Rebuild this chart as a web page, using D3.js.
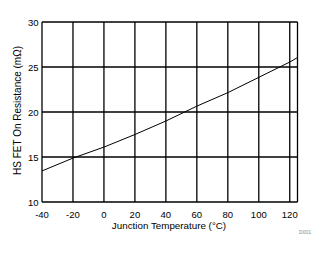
<!DOCTYPE html>
<html>
<head>
<meta charset="utf-8">
<script src="https://cdn.jsdelivr.net/npm/d3@7"></script>
<style>
  body { margin: 0; background: #fff; }
  text { font-family: "Liberation Sans", Arial, sans-serif; fill: #000; }
</style>
</head>
<body>
<svg id="chart" width="326" height="254"></svg>
<script>
// junction temperature (C) vs HS FET on resistance (mOhm)
var temps = [-40, -20, 0, 20, 40, 60, 80, 100, 120, 125];
var rdson = [13.45, 14.88, 16.1, 17.5, 19.0, 20.65, 22.15, 23.85, 25.55, 26.05];
var xTicks = [-40, -20, 0, 20, 40, 60, 80, 100, 120];
var yTicks = [10, 15, 20, 25, 30];

var svg = d3.select('#chart');
var plotLeft = 42, plotRight = 297.5, plotTop = 22, plotBottom = 202;

var x = d3.scaleLinear().domain([-40, 125]).range([plotLeft, plotRight]);
var y = d3.scaleLinear().domain([10, 30]).range([plotBottom, plotTop]);

// grid
var grid = svg.append('g').attr('stroke', '#000').attr('stroke-width', 1.3);
grid.selectAll('.vx').data(xTicks.concat([125])).enter().append('line')
    .attr('x1', (d) => x(d)).attr('x2', (d) => x(d))
    .attr('y1', plotTop).attr('y2', plotBottom);
grid.selectAll('.hy').data(yTicks).enter().append('line')
    .attr('x1', plotLeft).attr('x2', plotRight)
    .attr('y1', (d) => y(d)).attr('y2', (d) => y(d));

// tick labels
svg.append('g').selectAll('text').data(xTicks).enter().append('text')
    .attr('x', (d) => x(d)).attr('y', 217.5)
    .attr('text-anchor', 'middle').attr('font-size', 9.5)
    .text((d) => d);
svg.append('g').selectAll('text').data(yTicks).enter().append('text')
    .attr('x', 38.5).attr('y', (d) => y(d) + 3.5)
    .attr('text-anchor', 'end').attr('font-size', 9.5)
    .text((d) => d);

// curve
var line = d3.line().x((d, i) => x(temps[i])).y((d) => y(d));
svg.append('path').datum(rdson)
    .attr('d', line).attr('fill', 'none')
    .attr('stroke', '#000').attr('stroke-width', 1);

// axis titles
svg.append('text').attr('x', 169).attr('y', 229)
    .attr('text-anchor', 'middle').attr('font-size', 9.8)
    .text('Junction Temperature (°C)');
svg.append('text').attr('transform', 'translate(21,110.5) rotate(-90)')
    .attr('text-anchor', 'middle').attr('font-size', 10)
    .text('HS FET On Resistance (mΩ)');

svg.append('text').attr('x', 311).attr('y', 234)
    .attr('text-anchor', 'end').attr('font-size', 5).style('fill', '#888')
    .text('D001');
</script>
</body>
</html>
